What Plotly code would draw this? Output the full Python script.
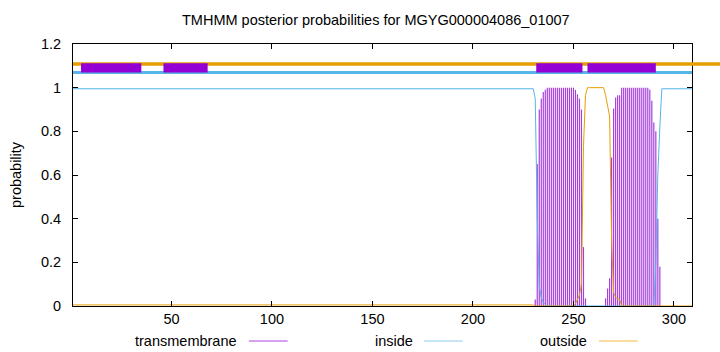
import plotly.graph_objects as go

# ---------------- data ----------------
positions = list(range(1, 310))

tm_prob = ([0.0] * 230 +
           [0.03, 0.65, 0.90, 0.95, 0.98, 0.99] + [1.0] * 14 +
           [0.99, 0.97, 0.95, 0.90, 0.27, 0.035] +
           [0.0] * 9 +
           [0.035, 0.08, 0.127, 0.68, 0.905, 0.955, 0.965, 0.965] + [1.0] * 14 +
           [0.99, 0.94, 0.84, 0.80, 0.40, 0.18] +
           [0.0] * 16)

inside_prob = ([0.995] * 230 +
               [0.95, 0.40, 0.09, 0.04, 0.015, 0.005] +
               [0.0] * 54 +
               [0.2, 0.6, 0.82] +
               [0.995] * 16)

outside_prob = ([0.005] * 230 +
                [0.0] * 20 +
                [0.01, 0.03, 0.05, 0.10, 0.73, 0.965] +
                [1.0] * 9 +
                [0.965, 0.92, 0.87, 0.30, 0.06, 0.04, 0.035, 0.03] +
                [0.0] * 36)

tm_segments_start = [5, 46, 231.5, 257]
tm_segments_end = [35, 68, 254.5, 291]

series_names = ["transmembrane", "inside", "outside"]
x_ticks = [50, 100, 150, 200, 250, 300]
title_text = "TMHMM posterior probabilities for MGYG000004086_01007"

# ---------------- style ----------------
PURPLE = "#9400d3"
BLUE = "#56b4e9"
ORANGE = "#e69f00"
FONT = "Liberation Sans"
FS = 14.5
W, H = 720, 352
L, R, T, B = 73, 28, 44, 46
PW, PH = W - L - R, H - T - B


def px_to_paper_x(px):
    return (px - L) / PW


def px_to_paper_y(py):
    return (H - B - py) / PH


# impulses built from the data (gnuplot "with impulses")
imp_x, imp_y = [], []
for p, v in zip(positions, tm_prob):
    if v > 0:
        imp_x += [p, p, None]
        imp_y += [0, v, None]

fig = go.Figure()

fig.add_trace(go.Scatter(x=imp_x, y=imp_y, mode="lines",
                         line=dict(color="#a640dc", width=1.2),
                         showlegend=False, name=series_names[0]))
fig.add_trace(go.Scatter(x=positions, y=inside_prob, mode="lines",
                         line=dict(color=BLUE, width=1), showlegend=False,
                         name=series_names[1]))
fig.add_trace(go.Scatter(x=positions, y=outside_prob, mode="lines",
                         line=dict(color=ORANGE, width=1), showlegend=False,
                         name=series_names[2]))

shapes = []
# topology lines
shapes.append(dict(type="line", xref="paper", yref="y", x0=0, x1=px_to_paper_x(W + 5),
                   y0=1.108, y1=1.108, line=dict(color=ORANGE, width=3.5)))
shapes.append(dict(type="line", xref="paper", yref="y", x0=0, x1=1,
                   y0=1.07, y1=1.07, line=dict(color=BLUE, width=3)))
for s, e in zip(tm_segments_start, tm_segments_end):
    shapes.append(dict(type="rect", xref="x", yref="y", x0=s, x1=e,
                       y0=1.07, y1=1.112, fillcolor=PURPLE,
                       line=dict(width=0)))

# legend (gnuplot style: text then sample line)
legend_text_right = [238.5, 414.6, 589]
legend_line = [(248.8, 287.7), (424, 462.7), (599, 637.7)]
legend_colors = ["#b040e0", "#8ccbef", "#f0b840"]
legend_y = 341
annotations = []
for name, xr, (a, b), c in zip(series_names, legend_text_right, legend_line, legend_colors):
    annotations.append(dict(text=name, xref="paper", yref="paper",
                            x=px_to_paper_x(xr), y=px_to_paper_y(legend_y),
                            xanchor="right", yanchor="middle", showarrow=False,
                            font=dict(family=FONT, size=FS, color="black")))
    shapes.append(dict(type="line", xref="paper", yref="paper",
                       x0=px_to_paper_x(a), x1=px_to_paper_x(b),
                       y0=px_to_paper_y(legend_y), y1=px_to_paper_y(legend_y),
                       line=dict(color=c, width=1)))

annotations.append(dict(text=title_text, xref="paper", yref="paper",
                        x=px_to_paper_x(376), y=px_to_paper_y(20),
                        xanchor="center", yanchor="middle", showarrow=False,
                        font=dict(family=FONT, size=FS, color="black")))
annotations.append(dict(text="probability", xref="paper", yref="paper",
                        x=px_to_paper_x(16), y=0.5, textangle=-90,
                        xanchor="center", yanchor="middle", showarrow=False,
                        font=dict(family=FONT, size=FS, color="black")))

fig.update_layout(
    width=W, height=H,
    margin=dict(l=L, r=R, t=T, b=B, pad=0),
    paper_bgcolor="white", plot_bgcolor="white",
    font=dict(family=FONT, size=FS, color="black"),
    shapes=shapes, annotations=annotations,
    showlegend=False,
)
fig.update_xaxes(range=[1, 309], tickvals=x_ticks, ticks="inside", ticklen=5,
                 showline=True, linecolor="black", linewidth=1, mirror="ticks",
                 showgrid=False, zeroline=False, tickcolor="black")
fig.update_yaxes(range=[0, 1.2], dtick=0.2, ticks="inside", ticklen=5,
                 showline=True, linecolor="black", linewidth=1, mirror="ticks",
                 showgrid=False, zeroline=False, tickcolor="black",
                 ticklabelstandoff=8)

fig.write_html("out.html")
